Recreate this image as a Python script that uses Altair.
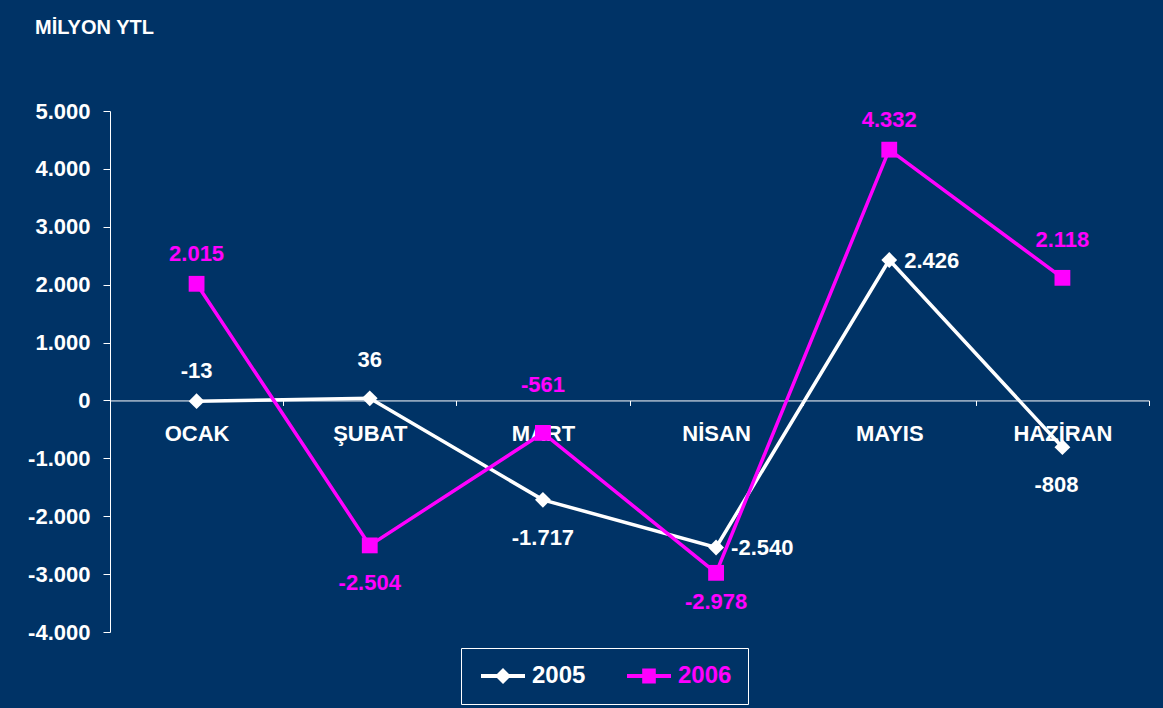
import altair as alt
import pandas as pd

# ---- data ----
months = ["OCAK", "ŞUBAT", "MART", "NİSAN", "MAYIS", "HAZİRAN"]
values_2005 = [-13, 36, -1717, -2540, 2426, -808]
values_2006 = [2015, -2504, -561, -2978, 4332, 2118]
series_names = ["2005", "2006"]
y_ticks = [-4000, -3000, -2000, -1000, 0, 1000, 2000, 3000, 4000, 5000]
unit_title = "MİLYON YTL"

# label placement keys (style only)
place_2005 = ["above30", "above38", "below38", "right", "right", "below38l"]
place_2006 = ["above30", "below38", "above48", "below29", "above30", "above38"]

PLACE = {
    "above30": (0, -30, "center"),
    "above38": (0, -38, "center"),
    "above48": (0, -48, "center"),
    "below29": (0, 29, "center"),
    "below38": (0, 38, "center"),
    "below38l": (-6, 38, "center"),
    "right": (15, 1, "left"),
}

BG = "#003366"
MAGENTA = "#ff00ff"
WHITE = "#ffffff"
FONT = "Liberation Sans"


def fmt(v):
    s = f"{abs(v):,}".replace(",", ".")
    return ("-" if v < 0 else "") + s


rows = []
for name, vals, places in [("2005", values_2005, place_2005), ("2006", values_2006, place_2006)]:
    for m, v, p in zip(months, vals, places):
        rows.append({"month": m, "value": v, "series": name, "label": fmt(v), "place": p})
df = pd.DataFrame(rows)

W, H = 1039, 521
ymin, ymax = -4000, 5000
zero_offset = -(H - H * ymax / (ymax - ymin))

x_enc = alt.X(
    "month:N",
    sort=months,
    scale=alt.Scale(type="band", domain=months, paddingInner=0, paddingOuter=0),
    axis=alt.Axis(
        orient="bottom",
        offset=zero_offset,
        title=None,
        grid=False,
        labelAngle=0,
        domainColor=WHITE,
        domainWidth=1,
        tickColor=WHITE,
        tickWidth=1,
        tickSize=5,
        tickBand="extent",
        labelColor=WHITE,
        labelFont=FONT,
        labelFontSize=22,
        labelFontWeight="bold",
        labelPadding=18,
    ),
)

y_enc = alt.Y(
    "value:Q",
    scale=alt.Scale(domain=[ymin, ymax], nice=False, zero=False),
    axis=alt.Axis(
        title=None,
        grid=False,
        values=y_ticks,
        labelExpr="(datum.value < 0 ? '-' : '') + replace(format(abs(datum.value), ','), ',', '.')",
        domainColor=WHITE,
        domainWidth=1,
        tickColor=WHITE,
        tickWidth=1,
        tickSize=7,
        labelColor=WHITE,
        labelFont=FONT,
        labelFontSize=22,
        labelFontWeight="bold",
        labelPadding=13,
    ),
)

base = alt.Chart(df).encode(x=x_enc, y=y_enc)

layers = []
for name, color, shape in [("2005", WHITE, "diamond"), ("2006", MAGENTA, "square")]:
    sub = base.transform_filter(alt.datum.series == name)
    layers.append(sub.mark_line(color=color, strokeWidth=3.5))
    layers.append(sub.mark_point(shape=shape, filled=True, size=250, color=color, opacity=1))

for key, (dx, dy, align) in PLACE.items():
    layers.append(
        base.transform_filter(alt.datum.place == key)
        .mark_text(dx=dx, dy=dy, align=align, baseline="middle", font=FONT,
                   fontSize=22, fontWeight="bold")
        .encode(
            text="label:N",
            color=alt.condition(alt.datum.series == "2006", alt.value(MAGENTA), alt.value(WHITE)),
        )
    )

# legend-only layer (no marks drawn; explicit domains give legend entries)
legend_paths = [
    "M-1,-0.24L4.5,-0.24L4.5,0.24L-1,0.24Z M0.75,0L1.75,-1L2.75,0L1.75,1Z",
    "M-1,-0.24L4.5,-0.24L4.5,0.24L-1,0.24Z M0.9,-0.95L2.6,-0.95L2.6,0.95L0.9,0.95Z",
]
legend_props = dict(
    title=None,
    orient="none",
    legendX=351,
    legendY=537,
    direction="horizontal",
    columns=2,
    labelFont=FONT,
    labelFontSize=24,
    labelFontWeight="bold",
    labelColor=alt.ExprRef(expr="datum.value == '2006' ? '#ff00ff' : '#ffffff'"),
    symbolSize=256,
    symbolStrokeWidth=0,
    labelOffset=31,
    columnPadding=37,
    padding=16,
    strokeColor=WHITE,
    fillColor=BG,
    cornerRadius=0,
)
legend_layer = (
    alt.Chart(df)
    .transform_filter("false")
    .mark_point(filled=True, opacity=1, size=256)
    .encode(
        color=alt.Color("series:N", scale=alt.Scale(domain=series_names, range=[WHITE, MAGENTA]),
                        legend=alt.Legend(**legend_props)),
        shape=alt.Shape("series:N", scale=alt.Scale(domain=series_names, range=legend_paths),
                        legend=alt.Legend(**legend_props)),
    )
)
layers.append(legend_layer)

chart = (
    alt.layer(*layers)
    .properties(
        width=W,
        height=H,
        background=BG,
        padding={"left": 110, "top": 111, "right": 14, "bottom": 76},
        autosize=alt.AutoSizeParams(type="none"),
        title=alt.TitleParams(
            text=unit_title,
            anchor="start",
            frame="group",
            dx=-75,
            offset=62,
            font=FONT,
            fontSize=20,
            fontWeight="bold",
            color=WHITE,
        ),
    )
    .configure_view(stroke=None)
)

chart.save("out.html", embed_options={"renderer": "svg", "actions": False})
